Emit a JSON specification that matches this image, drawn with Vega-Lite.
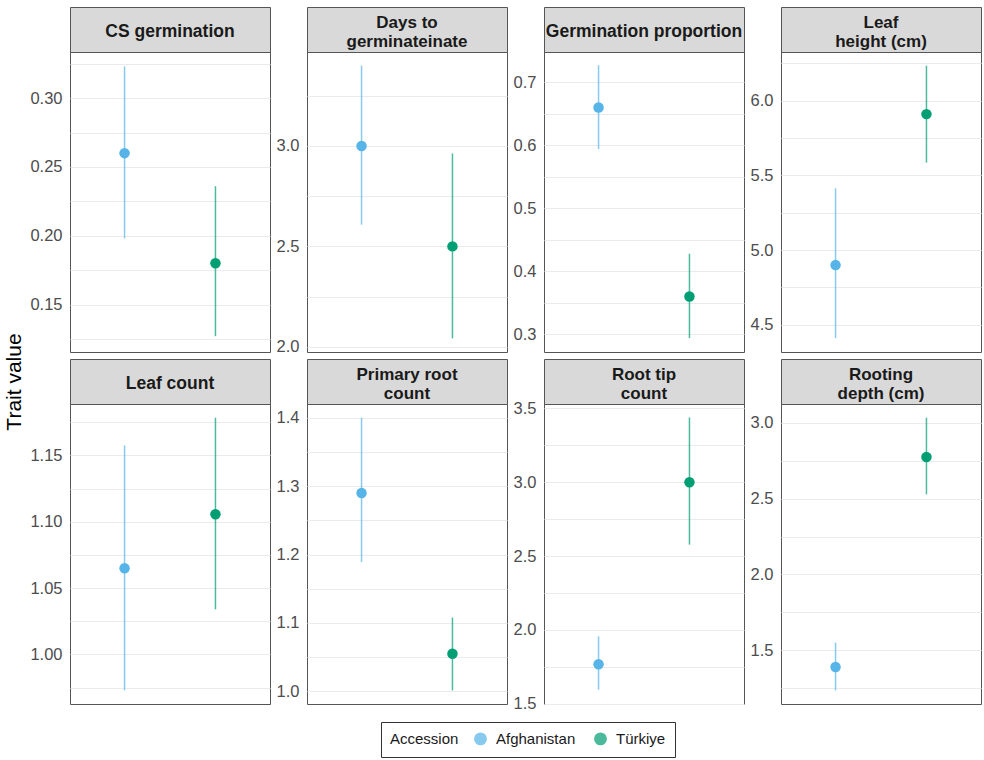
{
"$schema": "https://vega.github.io/schema/vega-lite/v6.json",
"padding": {"left": 4, "top": 6, "right": 1, "bottom": 0},
"background": "white",
"data": {"values": [
{"trait": "CS germination", "accession": "Afghanistan", "mean": 0.26, "lower": 0.198, "upper": 0.323},
{"trait": "CS germination", "accession": "Türkiye", "mean": 0.18, "lower": 0.127, "upper": 0.236},
{"trait": "Days to germinate", "accession": "Afghanistan", "mean": 3.0, "lower": 2.608, "upper": 3.40},
{"trait": "Days to germinate", "accession": "Türkiye", "mean": 2.5, "lower": 2.042, "upper": 2.963},
{"trait": "Germination proportion", "accession": "Afghanistan", "mean": 0.66, "lower": 0.594, "upper": 0.727},
{"trait": "Germination proportion", "accession": "Türkiye", "mean": 0.36, "lower": 0.294, "upper": 0.428},
{"trait": "Leaf height", "accession": "Afghanistan", "mean": 4.9, "lower": 4.411, "upper": 5.414},
{"trait": "Leaf height", "accession": "Türkiye", "mean": 5.911, "lower": 5.586, "upper": 6.235},
{"trait": "Leaf count", "accession": "Afghanistan", "mean": 1.065, "lower": 0.973, "upper": 1.1575},
{"trait": "Leaf count", "accession": "Türkiye", "mean": 1.1056, "lower": 1.034, "upper": 1.1784},
{"trait": "Primary root count", "accession": "Afghanistan", "mean": 1.29, "lower": 1.189, "upper": 1.40},
{"trait": "Primary root count", "accession": "Türkiye", "mean": 1.055, "lower": 1.0015, "upper": 1.108},
{"trait": "Root tip count", "accession": "Afghanistan", "mean": 1.768, "lower": 1.596, "upper": 1.957},
{"trait": "Root tip count", "accession": "Türkiye", "mean": 3.0, "lower": 2.578, "upper": 3.439},
{"trait": "Rooting depth", "accession": "Afghanistan", "mean": 1.391, "lower": 1.2365, "upper": 1.551},
{"trait": "Rooting depth", "accession": "Türkiye", "mean": 2.774, "lower": 2.528, "upper": 3.033}
]},
"title": {"text": "Trait value", "orient": "left", "anchor": "middle", "fontSize": 21, "fontWeight": "normal", "color": "#000000", "font": "Liberation Sans", "offset": 4},
"spacing": 2,
"vconcat": [
{"columns": 4, "bounds": "flush", "spacing": {"row": 0, "column": 37}, "concat": [
 {"width": 200, "height": 45, "transform": [{"filter": "datum.trait == 'CS germination' && datum.accession == 'Afghanistan'"}],
  "mark": {"type": "text", "fontSize": 17.5, "fontWeight": "bold", "color": "#1a1a1a", "lineHeight": 18.5, "dy": 2},
  "encoding": {"text": {"value": "CS germination"}},
  "view": {"fill": "#d9d9d9", "stroke": "#555555"}},
 {"width": 200, "height": 45, "transform": [{"filter": "datum.trait == 'Days to germinate' && datum.accession == 'Afghanistan'"}],
  "mark": {"type": "text", "fontSize": 17, "fontWeight": "bold", "color": "#1a1a1a", "lineHeight": 18.5, "dy": -6.5},
  "encoding": {"text": {"value": ["Days to", "germinateinate"]}},
  "view": {"fill": "#d9d9d9", "stroke": "#555555"}},
 {"width": 200, "height": 45, "transform": [{"filter": "datum.trait == 'Germination proportion' && datum.accession == 'Afghanistan'"}],
  "mark": {"type": "text", "fontSize": 17.5, "fontWeight": "bold", "color": "#1a1a1a", "lineHeight": 18.5, "dy": 2},
  "encoding": {"text": {"value": "Germination proportion"}},
  "view": {"fill": "#d9d9d9", "stroke": "#555555"}},
 {"width": 200, "height": 45, "transform": [{"filter": "datum.trait == 'Leaf height' && datum.accession == 'Afghanistan'"}],
  "mark": {"type": "text", "fontSize": 17, "fontWeight": "bold", "color": "#1a1a1a", "lineHeight": 18.5, "dy": -6.5},
  "encoding": {"text": {"value": ["Leaf", "height (cm)"]}},
  "view": {"fill": "#d9d9d9", "stroke": "#555555"}},
 {"width": 200, "height": 300, "transform": [{"filter": "datum.trait == 'CS germination'"}],
  "encoding": {
   "x": {"field": "accession", "type": "nominal", "scale": {"type": "point", "padding": 0.6}, "axis": {"title": null, "labels": false, "ticks": false, "domain": false}},
   "color": {"field": "accession", "type": "nominal", "title": "Accession", "scale": {"domain": ["Afghanistan", "Türkiye"], "range": ["#56B4E9", "#009E73"]}, "legend": {"orient": "none", "direction": "horizontal", "titleOrient": "left", "legendX": 311, "legendY": 715, "strokeColor": "#333333", "padding": 9, "symbolType": "circle", "symbolSize": 130, "symbolOpacity": 1, "titleFontSize": 15, "titleFontWeight": "normal", "titleColor": "#1a1a1a", "labelFontSize": 15, "labelColor": "#1a1a1a", "columnPadding": 15, "titlePadding": 14, "labelOffset": 8}}
  },
  "layer": [
   {"mark": {"type": "rule", "strokeWidth": 1.5, "opacity": 0.7},
    "encoding": {"y": {"field": "lower", "type": "quantitative", "title": null, "scale": {"domain": [0.1155, 0.3335], "nice": false, "zero": false}, "axis": {"tickCount": 50, "values": [0.125, 0.15, 0.175, 0.2, 0.225, 0.25, 0.275, 0.3, 0.325], "labelExpr": "round(datum.value * 1000) % 50 == 0 ? format(datum.value, '.2f') : ''"}}, "y2": {"field": "upper"}}},
   {"mark": {"type": "point", "filled": true, "size": 110, "opacity": 1},
    "encoding": {"y": {"field": "mean", "type": "quantitative", "title": null}}}
  ]},
 {"width": 200, "height": 300, "transform": [{"filter": "datum.trait == 'Days to germinate'"}],
  "encoding": {
   "x": {"field": "accession", "type": "nominal", "scale": {"type": "point", "padding": 0.6}, "axis": {"title": null, "labels": false, "ticks": false, "domain": false}},
   "color": {"field": "accession", "type": "nominal", "title": "Accession", "scale": {"domain": ["Afghanistan", "Türkiye"], "range": ["#56B4E9", "#009E73"]}}
  },
  "layer": [
   {"mark": {"type": "rule", "strokeWidth": 1.5, "opacity": 0.7},
    "encoding": {"y": {"field": "lower", "type": "quantitative", "title": null, "scale": {"domain": [1.974, 3.468], "nice": false, "zero": false}, "axis": {"tickCount": 50, "values": [2.0, 2.25, 2.5, 2.75, 3.0, 3.25], "labelExpr": "round(datum.value * 100) % 50 == 0 ? format(datum.value, '.1f') : ''"}}, "y2": {"field": "upper"}}},
   {"mark": {"type": "point", "filled": true, "size": 110, "opacity": 1},
    "encoding": {"y": {"field": "mean", "type": "quantitative", "title": null}}}
  ]},
 {"width": 200, "height": 300, "transform": [{"filter": "datum.trait == 'Germination proportion'"}],
  "encoding": {
   "x": {"field": "accession", "type": "nominal", "scale": {"type": "point", "padding": 0.6}, "axis": {"title": null, "labels": false, "ticks": false, "domain": false}},
   "color": {"field": "accession", "type": "nominal", "title": "Accession", "scale": {"domain": ["Afghanistan", "Türkiye"], "range": ["#56B4E9", "#009E73"]}}
  },
  "layer": [
   {"mark": {"type": "rule", "strokeWidth": 1.5, "opacity": 0.7},
    "encoding": {"y": {"field": "lower", "type": "quantitative", "title": null, "scale": {"domain": [0.272, 0.748], "nice": false, "zero": false}, "axis": {"tickCount": 50, "values": [0.3, 0.35, 0.4, 0.45, 0.5, 0.55, 0.6, 0.65, 0.7], "labelExpr": "round(datum.value * 100) % 10 == 0 ? format(datum.value, '.1f') : ''"}}, "y2": {"field": "upper"}}},
   {"mark": {"type": "point", "filled": true, "size": 110, "opacity": 1},
    "encoding": {"y": {"field": "mean", "type": "quantitative", "title": null}}}
  ]},
 {"width": 200, "height": 300, "transform": [{"filter": "datum.trait == 'Leaf height'"}],
  "encoding": {
   "x": {"field": "accession", "type": "nominal", "scale": {"type": "point", "padding": 0.6}, "axis": {"title": null, "labels": false, "ticks": false, "domain": false}},
   "color": {"field": "accession", "type": "nominal", "title": "Accession", "scale": {"domain": ["Afghanistan", "Türkiye"], "range": ["#56B4E9", "#009E73"]}}
  },
  "layer": [
   {"mark": {"type": "rule", "strokeWidth": 1.5, "opacity": 0.7},
    "encoding": {"y": {"field": "lower", "type": "quantitative", "title": null, "scale": {"domain": [4.318, 6.327], "nice": false, "zero": false}, "axis": {"tickCount": 50, "values": [4.5, 4.75, 5.0, 5.25, 5.5, 5.75, 6.0, 6.25], "labelExpr": "round(datum.value * 100) % 50 == 0 ? format(datum.value, '.1f') : ''"}}, "y2": {"field": "upper"}}},
   {"mark": {"type": "point", "filled": true, "size": 110, "opacity": 1},
    "encoding": {"y": {"field": "mean", "type": "quantitative", "title": null}}}
  ]}
]},
{"columns": 4, "bounds": "flush", "spacing": {"row": 0, "column": 37}, "concat": [
 {"width": 200, "height": 45, "transform": [{"filter": "datum.trait == 'Leaf count' && datum.accession == 'Afghanistan'"}],
  "mark": {"type": "text", "fontSize": 17.5, "fontWeight": "bold", "color": "#1a1a1a", "lineHeight": 18.5, "dy": 2},
  "encoding": {"text": {"value": "Leaf count"}},
  "view": {"fill": "#d9d9d9", "stroke": "#555555"}},
 {"width": 200, "height": 45, "transform": [{"filter": "datum.trait == 'Primary root count' && datum.accession == 'Afghanistan'"}],
  "mark": {"type": "text", "fontSize": 17, "fontWeight": "bold", "color": "#1a1a1a", "lineHeight": 18.5, "dy": -6.5},
  "encoding": {"text": {"value": ["Primary root", "count"]}},
  "view": {"fill": "#d9d9d9", "stroke": "#555555"}},
 {"width": 200, "height": 45, "transform": [{"filter": "datum.trait == 'Root tip count' && datum.accession == 'Afghanistan'"}],
  "mark": {"type": "text", "fontSize": 17, "fontWeight": "bold", "color": "#1a1a1a", "lineHeight": 18.5, "dy": -6.5},
  "encoding": {"text": {"value": ["Root tip", "count"]}},
  "view": {"fill": "#d9d9d9", "stroke": "#555555"}},
 {"width": 200, "height": 45, "transform": [{"filter": "datum.trait == 'Rooting depth' && datum.accession == 'Afghanistan'"}],
  "mark": {"type": "text", "fontSize": 17, "fontWeight": "bold", "color": "#1a1a1a", "lineHeight": 18.5, "dy": -6.5},
  "encoding": {"text": {"value": ["Rooting", "depth (cm)"]}},
  "view": {"fill": "#d9d9d9", "stroke": "#555555"}},
 {"width": 200, "height": 300, "transform": [{"filter": "datum.trait == 'Leaf count'"}],
  "encoding": {
   "x": {"field": "accession", "type": "nominal", "scale": {"type": "point", "padding": 0.6}, "axis": {"title": null, "labels": false, "ticks": false, "domain": false}},
   "color": {"field": "accession", "type": "nominal", "title": "Accession", "scale": {"domain": ["Afghanistan", "Türkiye"], "range": ["#56B4E9", "#009E73"]}}
  },
  "layer": [
   {"mark": {"type": "rule", "strokeWidth": 1.5, "opacity": 0.7},
    "encoding": {"y": {"field": "lower", "type": "quantitative", "title": null, "scale": {"domain": [0.9627, 1.1887], "nice": false, "zero": false}, "axis": {"tickCount": 50, "values": [0.975, 1.0, 1.025, 1.05, 1.075, 1.1, 1.125, 1.15, 1.175], "labelExpr": "round(datum.value * 1000) % 50 == 0 ? format(datum.value, '.2f') : ''"}}, "y2": {"field": "upper"}}},
   {"mark": {"type": "point", "filled": true, "size": 110, "opacity": 1},
    "encoding": {"y": {"field": "mean", "type": "quantitative", "title": null}}}
  ]},
 {"width": 200, "height": 300, "transform": [{"filter": "datum.trait == 'Primary root count'"}],
  "encoding": {
   "x": {"field": "accession", "type": "nominal", "scale": {"type": "point", "padding": 0.6}, "axis": {"title": null, "labels": false, "ticks": false, "domain": false}},
   "color": {"field": "accession", "type": "nominal", "title": "Accession", "scale": {"domain": ["Afghanistan", "Türkiye"], "range": ["#56B4E9", "#009E73"]}}
  },
  "layer": [
   {"mark": {"type": "rule", "strokeWidth": 1.5, "opacity": 0.7},
    "encoding": {"y": {"field": "lower", "type": "quantitative", "title": null, "scale": {"domain": [0.9816, 1.42], "nice": false, "zero": false}, "axis": {"tickCount": 50, "values": [1.0, 1.05, 1.1, 1.15, 1.2, 1.25, 1.3, 1.35, 1.4], "labelExpr": "round(datum.value * 100) % 10 == 0 ? format(datum.value, '.1f') : ''"}}, "y2": {"field": "upper"}}},
   {"mark": {"type": "point", "filled": true, "size": 110, "opacity": 1},
    "encoding": {"y": {"field": "mean", "type": "quantitative", "title": null}}}
  ]},
 {"width": 200, "height": 300, "transform": [{"filter": "datum.trait == 'Root tip count'"}],
  "encoding": {
   "x": {"field": "accession", "type": "nominal", "scale": {"type": "point", "padding": 0.6}, "axis": {"title": null, "labels": false, "ticks": false, "domain": false}},
   "color": {"field": "accession", "type": "nominal", "title": "Accession", "scale": {"domain": ["Afghanistan", "Türkiye"], "range": ["#56B4E9", "#009E73"]}}
  },
  "layer": [
   {"mark": {"type": "rule", "strokeWidth": 1.5, "opacity": 0.7},
    "encoding": {"y": {"field": "lower", "type": "quantitative", "title": null, "scale": {"domain": [1.499, 3.53], "nice": false, "zero": false}, "axis": {"tickCount": 50, "values": [1.5, 1.75, 2.0, 2.25, 2.5, 2.75, 3.0, 3.25, 3.5], "labelExpr": "round(datum.value * 100) % 50 == 0 ? format(datum.value, '.1f') : ''"}}, "y2": {"field": "upper"}}},
   {"mark": {"type": "point", "filled": true, "size": 110, "opacity": 1},
    "encoding": {"y": {"field": "mean", "type": "quantitative", "title": null}}}
  ]},
 {"width": 200, "height": 300, "transform": [{"filter": "datum.trait == 'Rooting depth'"}],
  "encoding": {
   "x": {"field": "accession", "type": "nominal", "scale": {"type": "point", "padding": 0.6}, "axis": {"title": null, "labels": false, "ticks": false, "domain": false}},
   "color": {"field": "accession", "type": "nominal", "title": "Accession", "scale": {"domain": ["Afghanistan", "Türkiye"], "range": ["#56B4E9", "#009E73"]}}
  },
  "layer": [
   {"mark": {"type": "rule", "strokeWidth": 1.5, "opacity": 0.7},
    "encoding": {"y": {"field": "lower", "type": "quantitative", "title": null, "scale": {"domain": [1.147, 3.123], "nice": false, "zero": false}, "axis": {"tickCount": 50, "values": [1.25, 1.5, 1.75, 2.0, 2.25, 2.5, 2.75, 3.0], "labelExpr": "round(datum.value * 100) % 50 == 0 ? format(datum.value, '.1f') : ''"}}, "y2": {"field": "upper"}}},
   {"mark": {"type": "point", "filled": true, "size": 110, "opacity": 1},
    "encoding": {"y": {"field": "mean", "type": "quantitative", "title": null}}}
  ]}
]}
],
"config": {
 "font": "Liberation Sans",
 "view": {"stroke": "#555555", "strokeWidth": 1},
 "axis": {"labelFont": "Liberation Sans", "labelFontSize": 16.5, "labelColor": "#4d4d4d", "gridColor": "#ebebeb", "gridWidth": 1, "ticks": false, "domain": false, "labelPadding": 8, "labelOverlap": false},
 "legend": {"labelFont": "Liberation Sans", "titleFont": "Liberation Sans"}
}
}
